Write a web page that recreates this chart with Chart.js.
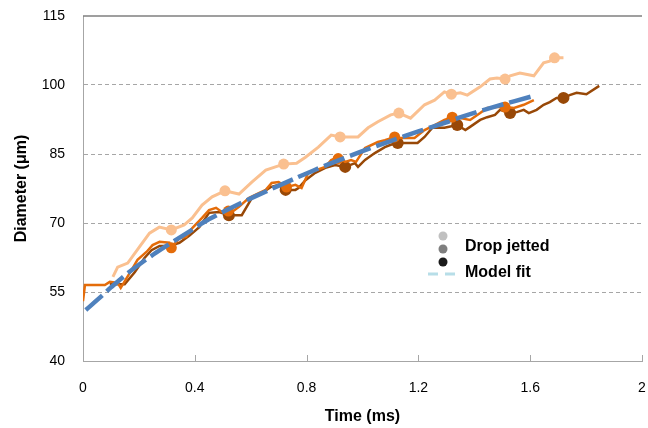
<!DOCTYPE html>
<html>
<head>
<meta charset="utf-8">
<script src="https://cdn.jsdelivr.net/npm/chart.js@4.4.0/dist/chart.umd.min.js"></script>
<style>
  html, body { margin: 0; padding: 0; background: #fff; }
</style>
</head>
<body>
<canvas id="dropChart" width="648" height="428"></canvas>
<script>
// axis ticks
const xTickValues = [0, 0.4, 0.8, 1.2, 1.6, 2];
const yTickValues = [40, 55, 70, 85, 100, 115];

// light orange run (time in ms, diameter in um)
const peachT = [0.107, 0.124, 0.160, 0.202, 0.238, 0.273, 0.316, 0.362, 0.391, 0.426, 0.462, 0.508, 0.558, 0.604, 0.654, 0.718, 0.764, 0.796, 0.842, 0.888, 0.920, 0.984, 1.020, 1.055, 1.101, 1.130, 1.172, 1.222, 1.258, 1.293, 1.318, 1.350, 1.375, 1.421, 1.456, 1.481, 1.510, 1.528, 1.563, 1.613, 1.648, 1.670, 1.687, 1.719];
const peachD = [58.3, 60.4, 61.3, 64.8, 67.8, 69.1, 68.5, 69.6, 71.1, 73.9, 75.7, 77.0, 76.3, 78.9, 81.5, 82.8, 83.0, 84.3, 86.5, 89.1, 88.7, 88.7, 90.7, 92.0, 93.5, 93.9, 92.8, 95.7, 96.7, 98.5, 98.0, 98.3, 97.8, 99.6, 101.3, 101.5, 101.3, 102.0, 102.6, 102.0, 104.8, 105.2, 105.9, 105.9];
const peachDropT = [0.316, 0.508, 0.718, 0.920, 1.130, 1.318, 1.510, 1.687];
const peachDropD = [68.5, 77.0, 82.8, 88.7, 93.9, 98.0, 101.3, 105.9];

// orange run
const orangeT = [0.0, 0.007, 0.078, 0.096, 0.124, 0.135, 0.156, 0.174, 0.195, 0.227, 0.249, 0.274, 0.309, 0.316, 0.345, 0.369, 0.391, 0.426, 0.451, 0.476, 0.497, 0.533, 0.558, 0.593, 0.629, 0.654, 0.675, 0.700, 0.728, 0.760, 0.782, 0.806, 0.867, 0.888, 0.913, 0.938, 0.959, 0.977, 1.009, 1.055, 1.080, 1.115, 1.137, 1.186, 1.222, 1.258, 1.293, 1.321, 1.350, 1.385, 1.421, 1.446, 1.481, 1.510, 1.542, 1.577, 1.613];
const orangeD = [53.0, 56.5, 56.5, 57.2, 57.0, 55.9, 58.0, 59.8, 62.0, 63.7, 65.2, 65.9, 65.7, 64.6, 66.7, 67.0, 68.9, 71.1, 72.8, 73.3, 72.4, 72.4, 73.5, 75.4, 76.5, 77.2, 78.7, 78.9, 77.8, 78.3, 77.6, 80.9, 82.2, 83.7, 84.3, 83.3, 83.7, 83.3, 86.3, 87.6, 88.0, 88.7, 88.5, 88.5, 90.2, 91.3, 92.4, 93.0, 92.8, 92.4, 93.9, 95.0, 95.2, 95.2, 95.0, 95.7, 96.7];
const orangeDropT = [0.316, 0.520, 0.728, 0.913, 1.115, 1.321, 1.510];
const orangeDropD = [64.6, 72.6, 77.8, 84.0, 88.7, 93.0, 95.2];

// dark brown run
const brownT = [0.096, 0.149, 0.185, 0.220, 0.245, 0.274, 0.309, 0.345, 0.380, 0.416, 0.451, 0.487, 0.522, 0.568, 0.604, 0.639, 0.671, 0.700, 0.725, 0.760, 0.771, 0.796, 0.831, 0.867, 0.902, 0.938, 0.973, 0.984, 1.009, 1.044, 1.080, 1.101, 1.126, 1.197, 1.222, 1.250, 1.293, 1.339, 1.368, 1.385, 1.421, 1.446, 1.474, 1.492, 1.528, 1.552, 1.577, 1.595, 1.623, 1.648, 1.670, 1.694, 1.719, 1.741, 1.766, 1.801, 1.847];
const brownD = [56.7, 56.7, 59.3, 62.4, 64.1, 65.0, 65.0, 65.7, 67.2, 69.1, 72.2, 72.4, 71.7, 71.7, 75.4, 76.5, 77.8, 78.3, 77.2, 77.2, 77.6, 79.3, 80.9, 82.0, 82.6, 82.2, 83.0, 82.2, 83.7, 85.2, 86.5, 87.0, 87.4, 87.4, 88.7, 90.7, 90.7, 91.3, 90.2, 90.9, 92.4, 93.0, 93.5, 94.6, 93.9, 94.1, 94.6, 93.9, 94.6, 95.7, 96.3, 97.2, 97.2, 97.8, 98.3, 98.0, 99.8];
const brownDropT = [0.522, 0.725, 0.938, 1.126, 1.339, 1.528, 1.719];
const brownDropD = [71.7, 77.2, 82.2, 87.4, 91.3, 93.9, 97.2];

// model fit
const fitT = [0.01, 0.07, 0.10, 0.16, 0.26, 0.39, 0.45, 0.56, 0.66, 0.77, 0.88, 0.99, 1.10, 1.20, 1.30, 1.36, 1.48, 1.61];
const fitD = [51.1, 54.3, 56.0, 59.1, 63.5, 68.5, 70.8, 74.2, 77.0, 80.0, 82.8, 85.4, 87.8, 89.9, 91.9, 93.2, 95.4, 97.6];

const FONT = "'Liberation Sans', Arial, sans-serif";

function pts(xs, ys) {
  return xs.map((x, i) => ({ x: x, y: ys[i] }));
}

function runLine(xs, ys, color, order, w) {
  return {
    data: pts(xs, ys),
    showLine: true,
    borderColor: color,
    borderWidth: w,
    pointRadius: 0,
    tension: 0,
    order: order
  };
}

function drops(xs, ys, color, order, r) {
  return {
    data: pts(xs, ys),
    showLine: false,
    backgroundColor: color,
    borderColor: color,
    pointRadius: r,
    pointBorderWidth: 0,
    order: order
  };
}

// top frame line + small inside tick marks on the time axis
const frameTicks = {
  id: "frameTicks",
  beforeDatasetsDraw(chart) {
    const ctx = chart.ctx;
    const a = chart.chartArea;
    const xs = chart.scales.x;
    ctx.save();
    ctx.strokeStyle = "#7F7F7F";
    ctx.lineWidth = 1.5;
    ctx.beginPath();
    ctx.moveTo(a.left, a.top);
    ctx.lineTo(a.right, a.top);
    ctx.stroke();
    ctx.strokeStyle = "#A6A6A6";
    ctx.lineWidth = 1;
    xs.ticks.forEach(t => {
      const px = Math.round(xs.getPixelForValue(t.value)) + 0.5;
      ctx.beginPath();
      ctx.moveTo(px, a.bottom);
      ctx.lineTo(px, a.bottom - 6);
      ctx.stroke();
    });
    ctx.restore();
  }
};

// legend as in the original figure
const dropLegend = {
  id: "dropLegend",
  afterDraw(chart) {
    const ctx = chart.ctx;
    ctx.save();
    [["#C0C0C0", 236], ["#7F7F7F", 249], ["#1A1A1A", 262]].forEach(([c, y]) => {
      ctx.fillStyle = c;
      ctx.beginPath();
      ctx.arc(443, y, 4.5, 0, Math.PI * 2);
      ctx.fill();
    });
    ctx.strokeStyle = "#B7DEE8";
    ctx.lineWidth = 3;
    ctx.setLineDash([10, 7]);
    ctx.beginPath();
    ctx.moveTo(428, 274);
    ctx.lineTo(456, 274);
    ctx.stroke();
    ctx.setLineDash([]);
    ctx.fillStyle = "#000";
    ctx.font = "bold 16px " + FONT;
    ctx.textBaseline = "middle";
    ctx.fillText("Drop jetted", 465, 247);
    ctx.fillText("Model fit", 465, 273);
    ctx.restore();
  }
};

new Chart(document.getElementById("dropChart"), {
  type: "scatter",
  data: {
    datasets: [
      {
        data: pts(fitT, fitD),
        showLine: true,
        borderColor: "#4F81BD",
        borderWidth: 4.5,
        borderDash: [22, 6],
        borderCapStyle: "butt",
        pointRadius: 0,
        tension: 0.3,
        order: 0
      },
      runLine(orangeT, orangeD, "#E46C0A", 1, 2.5),
      drops(orangeDropT, orangeDropD, "#E46C0A", 1, 5.5),
      runLine(brownT, brownD, "#984807", 2, 2.5),
      drops(brownDropT, brownDropD, "#984807", 2, 6),
      runLine(peachT, peachD, "#FAC090", 3, 3),
      drops(peachDropT, peachDropD, "#FAC090", 3, 5.5)
    ]
  },
  options: {
    responsive: false,
    animation: false,
    layout: { padding: { top: 16, right: 0, left: 0, bottom: 0 } },
    plugins: {
      legend: { display: false },
      tooltip: { enabled: false }
    },
    scales: {
      x: {
        type: "linear",
        min: 0,
        max: 2,
        afterBuildTicks: s => { s.ticks = xTickValues.map(v => ({ value: v })); },
        afterFit: s => { s.height = 67; },
        grid: {
          drawOnChartArea: false,
          drawTicks: true,
          tickLength: 19,
          tickColor: "rgba(0,0,0,0)"
        },
        border: { color: "#A6A6A6", width: 1 },
        ticks: {
          padding: 0,
          color: "#000",
          font: { family: FONT, size: 14 },
          callback: v => String(v)
        },
        title: {
          display: true,
          text: "Time (ms)",
          color: "#000",
          font: { family: FONT, size: 16, weight: "bold" },
          padding: { top: 4, bottom: 2 }
        }
      },
      y: {
        type: "linear",
        min: 40,
        max: 115,
        afterBuildTicks: s => { s.ticks = yTickValues.map(v => ({ value: v })); },
        afterFit: s => { s.width = 83; },
        grid: {
          drawTicks: true,
          tickLength: 18,
          tickColor: "rgba(0,0,0,0)",
          color: c => (c.tick && (c.tick.value === 40 || c.tick.value === 115)) ? "rgba(0,0,0,0)" : "#A6A6A6",
          lineWidth: 1
        },
        border: { color: "#A6A6A6", width: 1, dash: [4, 3] },
        ticks: {
          padding: 0,
          color: "#000",
          font: { family: FONT, size: 14 },
          callback: v => String(v)
        },
        title: {
          display: true,
          text: "Diameter (μm)",
          color: "#000",
          font: { family: FONT, size: 16, weight: "bold" },
          padding: { top: 12, bottom: 0 }
        }
      }
    }
  },
  plugins: [frameTicks, dropLegend]
});
</script>
</body>
</html>
